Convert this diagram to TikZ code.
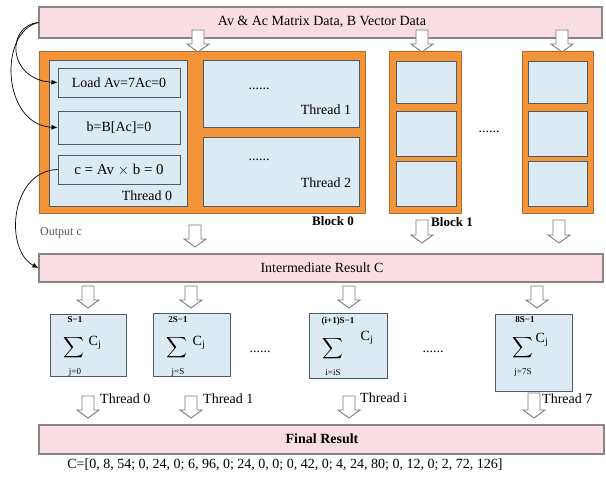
\documentclass[tikz,border=0pt]{standalone}
\usepackage{fontspec}
\setmainfont{Liberation Serif}
\usetikzlibrary{arrows.meta}
\definecolor{pinkfill}{HTML}{F9DDE2}
\definecolor{pinkdraw}{HTML}{8C8484}
\definecolor{orangefill}{HTML}{F39438}
\definecolor{orangedraw}{HTML}{B8682A}
\definecolor{bluefill}{HTML}{DCEAF4}
\definecolor{bluedraw}{HTML}{4F5A66}
\definecolor{arrowdraw}{HTML}{7A7A7A}
\definecolor{txtgray}{HTML}{555555}
\newcommand{\harrow}[3]{%
  \draw[hollow] (#1-6,#2) -- (#1+6,#2) -- (#1+6,#3-8) -- (#1+11,#3-8) -- (#1,#3) -- (#1-11,#3-8) -- (#1-6,#3-8) -- cycle;}
\newcommand{\bigsig}{\scalebox{1.45}{$\displaystyle\sum$}}
\tikzset{
  bar/.style={draw=pinkdraw, fill=pinkfill, line width=1.2pt, inner sep=0},
  blockbox/.style={draw=orangedraw, fill=orangefill, line width=0.8pt, inner sep=0},
  cellbox/.style={draw=bluedraw, fill=bluefill, line width=1pt, inner sep=0},
  hollow/.style={draw=arrowdraw, fill=white, line width=0.9pt, line join=miter},
  txt/.style={font=\fontsize{14}{14}\selectfont, inner sep=0},
  btxt/.style={font=\fontsize{13}{13}\selectfont\bfseries, inner sep=0},
  small/.style={font=\fontsize{12}{12}\selectfont, inner sep=0, text=txtgray},
  lim/.style={font=\fontsize{9}{9}\selectfont\bfseries, inner sep=0},
  llim/.style={font=\fontsize{9}{9}\selectfont, inner sep=0},
  sig/.style={inner sep=0},
  curve/.style={draw=black, line width=0.7pt, -{Latex[length=6pt,width=5pt]}},
}
\begin{document}
\begin{tikzpicture}[x=1pt,y=-1pt]
\useasboundingbox (0,0) rectangle (606,477);
% bars
\node[bar, minimum width=563, minimum height=31] (top) at (320.5,22.5) {};
\node[txt] (toptxt) at (322,22) {Av \& Ac Matrix Data, B Vector Data};
\node[bar, minimum width=564, minimum height=28] (inter) at (321,268) {};
\node[txt] (intertxt) at (322,268) {Intermediate Result C};
\node[bar, minimum width=565, minimum height=29] (final) at (321.5,439.5) {};
\node[txt, font=\fontsize{14}{14}\selectfont\bfseries] (finaltxt) at (322,439) {Final Result};
% block 0
\node[blockbox, minimum width=326, minimum height=162] (b0) at (202,132) {};
\node[cellbox, minimum width=138, minimum height=146] (t0) at (118,133) {};
\node[cellbox, minimum width=156, minimum height=67] (t1) at (281,93.5) {};
\node[cellbox, minimum width=156, minimum height=69] (t2) at (281,171.5) {};
\node[cellbox, minimum width=122, minimum height=29] (load) at (119,82.5) {};
\node[txt] at (load) {Load Av=7Ac=0};
\node[cellbox, minimum width=122, minimum height=33] (bb) at (119,127.5) {};
\node[txt] at (bb) {b=B[Ac]=0};
\node[cellbox, minimum width=122, minimum height=29] (cb) at (119,169.5) {};
\node[txt, font=\fontsize{15}{15}\selectfont] at (cb) {c = Av $\times$ b = 0};
\node[txt] (t0l) at (147,196) {Thread 0};
\node[txt] (d1) at (259,89) {......};
\node[txt] (t1l) at (326,110) {Thread 1};
\node[txt] (d2) at (259,160) {......};
\node[txt] (t2l) at (326,183) {Thread 2};
% block 1
\node[blockbox, minimum width=72, minimum height=162] (b1) at (425,132) {};
\node[cellbox, minimum width=60, minimum height=42] (b1c1) at (426,82) {};
\node[cellbox, minimum width=60, minimum height=45] (b1c2) at (426,133.5) {};
\node[cellbox, minimum width=60, minimum height=45] (b1c3) at (426,183.5) {};
% block N
\node[blockbox, minimum width=71, minimum height=162] (bn) at (557.5,132) {};
\node[cellbox, minimum width=59, minimum height=42] (bnc1) at (557.5,82) {};
\node[cellbox, minimum width=59, minimum height=45] (bnc2) at (557.5,133.5) {};
\node[cellbox, minimum width=59, minimum height=45] (bnc3) at (557.5,183.5) {};
\node[txt] (dblk) at (489,132) {......};
\node[btxt] (b0l) at (333,221) {Block 0};
\node[btxt] (b1l) at (452,222) {Block 1};
\node[small] (outc) at (61,233) {Output c};
% arrows from top
\harrow{198}{30}{52}
\harrow{422}{30}{52}
\harrow{562}{30}{52}
% arrows below blocks
\harrow{195}{225}{247}
\harrow{422}{220}{243}
\harrow{559}{220}{243}
% arrows below intermediate
\harrow{88}{286}{308}
\harrow{191}{286}{308}
\harrow{349}{286}{308}
\harrow{537}{286}{308}
% sum boxes
\node[cellbox, minimum width=76, minimum height=62] (s0) at (88,345) {};
\node[sig] at (74,348) {\bigsig};
\node[lim] at (75,320) {S−1};
\node[llim] at (75,372) {j=0};
\node[txt] at (95,343) {C\textsubscript{j}};
\node[cellbox, minimum width=77, minimum height=63] (s1) at (191.5,345) {};
\node[sig] at (177,348) {\bigsig};
\node[lim] at (178,320) {2S−1};
\node[llim] at (178,372) {j=S};
\node[txt] at (199,343) {C\textsubscript{j}};
\node[cellbox, minimum width=78, minimum height=65] (si) at (348,345.5) {};
\node[sig] at (333,349) {\bigsig};
\node[lim] at (338,321) {(i+1)S−1};
\node[llim] at (333,373) {i=iS};
\node[txt] at (367,338) {C\textsubscript{j}};
\node[cellbox, minimum width=77, minimum height=77] (s7) at (533.5,352.5) {};
\node[sig] at (523,348) {\bigsig};
\node[lim] at (525,320) {8S−1};
\node[llim] at (523,372) {j=7S};
\node[txt] at (542,340) {C\textsubscript{j}};
\node[txt] (sd1) at (260,352) {......};
\node[txt] (sd2) at (433,352) {......};
% arrows below sums
\harrow{88}{396}{418}
\harrow{191}{396}{418}
\harrow{349}{396}{418}
\harrow{534}{393}{418}
\node[txt, anchor=west] (th0) at (100,399) {Thread 0};
\node[txt, anchor=west] (th1) at (203,399) {Thread 1};
\node[txt, anchor=west] (thi) at (360,398) {Thread i};
\node[txt, anchor=west] (th7) at (542,399) {Thread 7};
% bottom text
\node[txt] (res) at (285,465) {C=[0, 8, 54; 0, 24, 0; 6, 96, 0; 24, 0, 0; 0, 42, 0; 4, 24, 80; 0, 12, 0; 2, 72, 126]};
% curved connectors
\draw[curve] (top.west) .. controls (5,26) and (8,80) .. (load.west);
\draw[curve] (top.west) .. controls (-2,32) and (2,125) .. (bb.west);
\draw[curve] (cb.west) .. controls (10,171) and (4,250) .. (inter.west);
\end{tikzpicture}
\end{document}
